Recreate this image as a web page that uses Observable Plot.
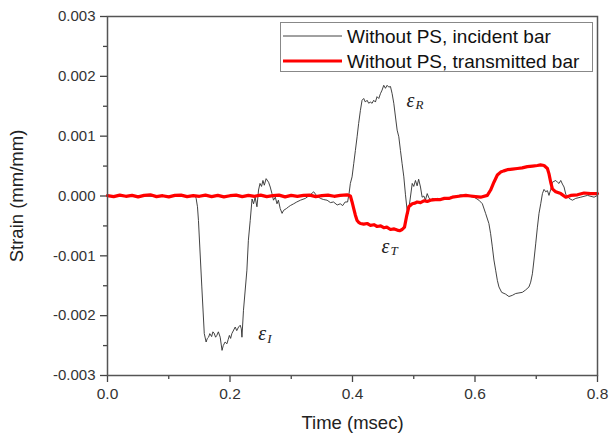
<!DOCTYPE html>
<html>
<head>
<meta charset="utf-8">
<script src="https://cdn.jsdelivr.net/npm/d3@7"></script>
<script src="https://cdn.jsdelivr.net/npm/@observablehq/plot@0.6"></script>
<style>
  html, body { margin: 0; padding: 0; background: #fff; }
  #chart { width: 609px; height: 436px; }
</style>
</head>
<body>
<div id="chart"></div>
<script>
// ---- Data (time in msec, strain in units of 1e-3 mm/mm) ----
const incidentTime = [
  0, 0.04, 0.08, 0.12, 0.1435, 0.1447, 0.1469, 0.1485, 0.154, 0.158, 0.161, 0.163, 0.165, 0.167, 0.170, 0.172, 0.174, 0.1765, 0.1785, 0.181,
  0.184, 0.187, 0.189, 0.192, 0.195, 0.197, 0.199, 0.201, 0.203, 0.206, 0.2085, 0.211, 0.214, 0.2167, 0.2185, 0.2195, 0.222, 0.2276, 0.230, 0.233,
  0.236, 0.2385, 0.241, 0.244, 0.2466, 0.249, 0.2515, 0.2538, 0.256, 0.259, 0.263, 0.2657, 0.2685, 0.271, 0.274, 0.2767, 0.279, 0.282, 0.285, 0.2875,
  0.292, 0.2957, 0.2985, 0.304, 0.309, 0.315, 0.323, 0.331, 0.3366, 0.342, 0.3475, 0.353, 0.3585, 0.364, 0.369, 0.375, 0.380, 0.384, 0.388, 0.392,
  0.3945, 0.3965, 0.3993, 0.402, 0.4047, 0.4075, 0.410, 0.4129, 0.4156, 0.4183, 0.421, 0.4238, 0.4265, 0.429, 0.432, 0.4346, 0.4374, 0.440, 0.4429, 0.4456,
  0.4483, 0.451, 0.4538, 0.4565, 0.4592, 0.462, 0.4647, 0.4674, 0.4702, 0.4729, 0.4756, 0.4783, 0.481, 0.4838, 0.4865, 0.489, 0.4905, 0.4935, 0.4948, 0.4975,
  0.500, 0.5028, 0.5055, 0.508, 0.511, 0.5137, 0.5165, 0.519, 0.522, 0.5247, 0.5275, 0.531, 0.535, 0.539, 0.5437, 0.549, 0.5547, 0.560, 0.5657, 0.571,
  0.5765, 0.582, 0.5877, 0.593, 0.5986, 0.6064, 0.612, 0.6173, 0.6227, 0.6255, 0.6283, 0.6309, 0.6337, 0.6365, 0.6391, 0.6435, 0.650, 0.6554, 0.661, 0.6664,
  0.6718, 0.6773, 0.6827, 0.6881, 0.6909, 0.6937, 0.6963, 0.6991, 0.7019, 0.7045, 0.7073, 0.7101, 0.7127, 0.7155, 0.7182, 0.7208, 0.7236, 0.7264, 0.7318, 0.7346,
  0.7372, 0.740, 0.7427, 0.7454, 0.7482, 0.7536, 0.7591, 0.7645, 0.7727, 0.7836, 0.7944, 0.80
];
const incidentStrain = [
  0, 0.01, -0.01, 0, 0, -0.04, -0.18, -0.41, -1.52, -2.30, -2.44, -2.38, -2.36, -2.30, -2.35, -2.27, -2.29, -2.36, -2.33, -2.27,
  -2.36, -2.58, -2.50, -2.44, -2.47, -2.40, -2.33, -2.38, -2.30, -2.24, -2.19, -2.25, -2.19, -2.16, -2.22, -2.36, -1.91, -1.24, -0.74, -0.41,
  -0.05, -0.13, -0.02, -0.18, 0.10, 0.21, 0.16, 0.26, 0.18, 0.29, 0.23, 0.15, 0.04, -0.07, -0.02, -0.13, -0.07, -0.21, -0.29, -0.24,
  -0.21, -0.18, -0.16, -0.13, -0.10, -0.07, -0.04, 0.02, 0.07, 0.0, -0.04, -0.06, -0.07, -0.11, -0.10, -0.15, -0.13, -0.16, -0.10, -0.10,
  0.05, 0.21, 0.32, 0.54, 0.76, 0.99, 1.21, 1.43, 1.60, 1.63, 1.57, 1.60, 1.55, 1.57, 1.55, 1.60, 1.57, 1.66, 1.63, 1.71,
  1.77, 1.85, 1.80, 1.85, 1.82, 1.83, 1.71, 1.55, 1.32, 1.10, 0.99, 0.76, 0.54, 0.32, 0.02, -0.22, -0.30, -0.10, 0.0, 0.21,
  0.16, 0.26, 0.17, 0.28, 0.15, -0.02, 0.0, -0.07, 0.04, -0.03, -0.07, -0.04, -0.06, -0.04, -0.07, -0.05, -0.04, -0.02, -0.02, 0.0,
  0.02, 0.01, 0.01, -0.01, -0.02, -0.07, -0.13, -0.29, -0.46, -0.63, -0.85, -1.07, -1.24, -1.41, -1.52, -1.61, -1.64, -1.68, -1.66, -1.63,
  -1.62, -1.61, -1.57, -1.52, -1.44, -1.30, -1.07, -0.80, -0.52, -0.29, -0.13, 0.04, 0.11, 0.07, 0.09, 0.01, 0.11, 0.23, 0.26, 0.23,
  0.21, 0.26, 0.20, 0.15, 0.03, -0.04, -0.07, -0.04, -0.02, 0.01, -0.02, 0.01
];
const transmittedTime = [
  0, 0.01, 0.02, 0.03, 0.04, 0.05, 0.06, 0.07, 0.08, 0.09, 0.10, 0.11, 0.12, 0.13, 0.14, 0.15, 0.16, 0.17, 0.18, 0.19,
  0.20, 0.21, 0.22, 0.23, 0.24, 0.25, 0.26, 0.27, 0.28, 0.29, 0.30, 0.31, 0.32, 0.33, 0.34, 0.35, 0.36, 0.37, 0.38, 0.3912,
  0.3966, 0.3993, 0.402, 0.4047, 0.4075, 0.410, 0.413, 0.4183, 0.424, 0.4293, 0.435, 0.4402, 0.446, 0.451, 0.456, 0.462, 0.468, 0.473, 0.477, 0.4811,
  0.4849, 0.4881, 0.4919, 0.4975, 0.502, 0.5056, 0.511, 0.5164, 0.522, 0.5274, 0.535, 0.5437, 0.550, 0.5573, 0.563, 0.5765, 0.585, 0.5928, 0.601, 0.6092,
  0.6201, 0.6255, 0.6309, 0.6365, 0.6419, 0.647, 0.6528, 0.661, 0.6692, 0.677, 0.6855, 0.694, 0.7019, 0.707, 0.7127, 0.7182, 0.7208, 0.7236, 0.7264, 0.7318,
  0.740, 0.7482, 0.7563, 0.7673, 0.7781, 0.789, 0.80
];
const transmittedStrain = [
  0.005, -0.01, 0.015, -0.005, 0.01, -0.015, 0.01, 0.02, -0.01, 0.005, -0.015, 0.01, 0.015, -0.01, 0.005, -0.005, 0.015, -0.01, 0.01, -0.015,
  0.005, 0.015, -0.01, 0.01, -0.005, 0.015, -0.01, 0.005, 0.015, -0.015, 0.01, -0.005, 0.01, 0.015, -0.01, 0.005, 0.015, -0.005, 0.01, 0.02,
  0.0, -0.10, -0.21, -0.32, -0.41, -0.44, -0.46, -0.47, -0.46, -0.49, -0.48, -0.51, -0.50, -0.53, -0.52, -0.56, -0.55, -0.57, -0.58, -0.56,
  -0.52, -0.35, -0.18, -0.13, -0.12, -0.10, -0.11, -0.08, -0.09, -0.07, -0.06, -0.06, -0.04, -0.04, -0.02, 0.0, 0.01, 0.0, -0.01, -0.02,
  0.01, 0.10, 0.23, 0.35, 0.40, 0.42, 0.44, 0.45, 0.46, 0.47, 0.49, 0.50, 0.51, 0.52, 0.51, 0.46, 0.37, 0.23, 0.12, 0.07,
  0.04, -0.02, 0.01, 0.02, 0.05, 0.04, 0.04
];
const seriesNames = ["Without PS, incident bar", "Without PS, transmitted bar"];
const xTicks = [0, 0.2, 0.4, 0.6, 0.8];
const xMinorTicks = [0.1, 0.3, 0.5, 0.7];
const yTicks = [-0.003, -0.002, -0.001, 0, 0.001, 0.002, 0.003];
const yMinorTicks = [-0.0025, -0.0015, -0.0005, 0.0005, 0.0015, 0.0025];
const annotT = [0.4947, 0.4538, 0.2527];
const annotV = [1.60, -0.84, -2.30];
const annotSub = ["R", "T", "I"];

// ---- Build tables ----
const incident = incidentTime.map((t, i) => ({t, v: incidentStrain[i] / 1000}));
const transmitted = transmittedTime.map((t, i) => ({t, v: transmittedStrain[i] / 1000}));
const annots = annotT.map((t, i) => ({t, v: annotV[i] / 1000, sub: annotSub[i]}));

const svg = Plot.plot({
  width: 609,
  height: 436,
  marginLeft: 107,
  marginRight: 12,
  marginTop: 16,
  marginBottom: 61,
  style: {fontFamily: "'Liberation Sans', Arial, sans-serif", fontSize: "15px", color: "#333", background: "#fff"},
  x: {domain: [0, 0.8], label: null},
  y: {domain: [-0.003, 0.003], label: null},
  marks: [
    Plot.axisX({ticks: xTicks, tickSize: 7, tickPadding: 5, tickFormat: d => d.toFixed(1), label: null, stroke: "#444", strokeWidth: 1.3, fontSize: 15.5, fill: "#333"}),
    Plot.axisX({ticks: xMinorTicks, tickSize: 4, tickFormat: () => "", label: null, stroke: "#444", strokeWidth: 1.3}),
    Plot.axisY({ticks: yTicks, tickSize: 7, tickPadding: 5, tickFormat: d => d.toFixed(3), label: null, stroke: "#444", strokeWidth: 1.3, fontSize: 15, fill: "#333"}),
    Plot.axisY({ticks: yMinorTicks, tickSize: 4, tickFormat: () => "", label: null, stroke: "#444", strokeWidth: 1.3}),
    Plot.line(incident, {x: "t", y: "v", stroke: "#2e2e2e", strokeWidth: 0.9}),
    Plot.line(transmitted, {x: "t", y: "v", stroke: "#ff0000", strokeWidth: 3.2}),
    Plot.frame({stroke: "#555", strokeWidth: 1.5}),
    Plot.text(annots, {x: "t", y: "v", text: () => "ε", fontFamily: "'Liberation Serif', serif", fontStyle: "italic", fontSize: 20, textAnchor: "middle", lineAnchor: "middle", fill: "#222"}),
    Plot.text(annots, {x: "t", y: "v", text: "sub", fontFamily: "'Liberation Serif', serif", fontStyle: "italic", fontSize: 13, textAnchor: "start", lineAnchor: "middle", dx: 5, dy: 5, fill: "#222"}),
    Plot.text(["Time (msec)"], {frameAnchor: "bottom", dy: 48, textAnchor: "middle", lineAnchor: "middle", fontSize: 18.5, fill: "#222"}),
    Plot.text(["Strain (mm/mm)"], {frameAnchor: "left", dx: -90, rotate: -90, textAnchor: "middle", lineAnchor: "middle", fontSize: 18.5, fill: "#222"})
  ]
});

// ---- Legend inside the plot area ----
const g = d3.select(svg).append("g")
  .attr("font-family", "'Liberation Sans', Arial, sans-serif")
  .attr("font-size", 19)
  .attr("text-anchor", "start");
g.append("rect").attr("x", 280.5).attr("y", 22.5).attr("width", 312).attr("height", 49)
  .attr("fill", "#fff").attr("stroke", "#888").attr("stroke-width", 1);
const legendColors = ["#2e2e2e", "#ff0000"];
const legendWidths = [0.9, 3];
seriesNames.forEach((name, i) => {
  const y = 36 + i * 25;
  g.append("line").attr("x1", 283).attr("x2", 342).attr("y1", y).attr("y2", y)
    .attr("stroke", legendColors[i]).attr("stroke-width", legendWidths[i]);
  g.append("text").attr("x", 347).attr("y", y).attr("dy", "0.35em")
    .attr("text-anchor", "start").attr("fill", "#111").text(name);
});

document.getElementById("chart").appendChild(svg);
</script>
</body>
</html>
